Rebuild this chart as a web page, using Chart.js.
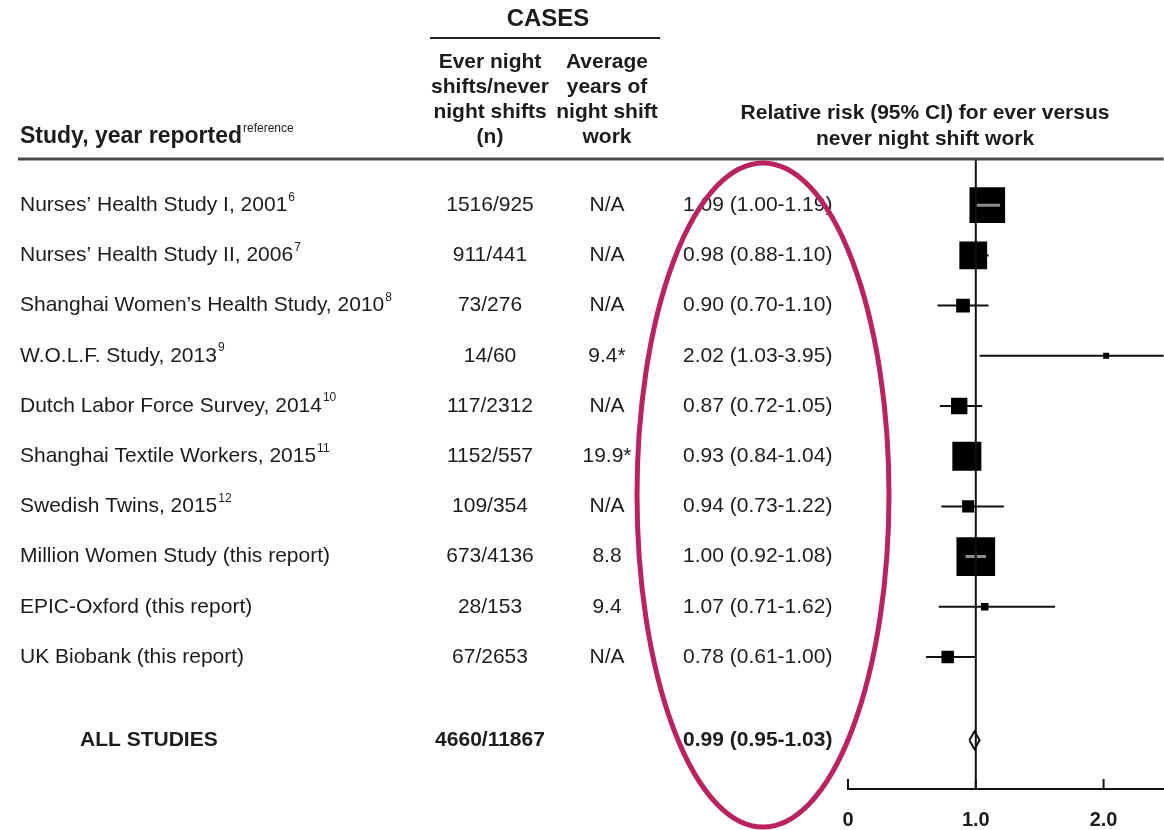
<!DOCTYPE html>
<html><head><meta charset="utf-8">
<script src="https://cdn.jsdelivr.net/npm/chart.js@4.4.1/dist/chart.umd.min.js"></script>
<style>html,body{margin:0;padding:0;background:#fff;overflow:hidden;}#wrap{width:1164px;height:830px;position:relative;overflow:hidden;}canvas{display:block;}</style>
</head><body><div id="wrap"><canvas id="c" width="1191" height="830"></canvas></div>
<script>
// ---------- data ----------
const studies = [
  'Nurses\u2019 Health Study I, 2001',
  'Nurses\u2019 Health Study II, 2006',
  'Shanghai Women\u2019s Health Study, 2010',
  'W.O.L.F. Study, 2013',
  'Dutch Labor Force Survey, 2014',
  'Shanghai Textile Workers, 2015',
  'Swedish Twins, 2015',
  'Million Women Study (this report)',
  'EPIC-Oxford (this report)',
  'UK Biobank (this report)'
];
const refs = ['6','7','8','9','10','11','12','','',''];
const cases = ['1516/925','911/441','73/276','14/60','117/2312','1152/557','109/354','673/4136','28/153','67/2653'];
const avgYears = ['N/A','N/A','N/A','9.4*','N/A','19.9*','N/A','8.8','9.4','N/A'];
const rr     = [1.09,0.98,0.90,2.02,0.87,0.93,0.94,1.00,1.07,0.78];
const ciLow  = [1.00,0.88,0.70,1.03,0.72,0.84,0.73,0.92,0.71,0.61];
const ciHigh = [1.19,1.10,1.10,3.95,1.05,1.04,1.22,1.08,1.62,1.00];
const totalLabel = 'ALL STUDIES';
const totalCases = '4660/11867';
const totalRR = 0.99, totalLow = 0.95, totalHigh = 1.03;
const xTicks = [0, 1, 2];

// ---------- style / layout ----------
const FONT = '"Liberation Sans", Arial, Helvetica, sans-serif';
const TEXT = '#1c1c1c';
const summaryRow = studies.length + 0.66;
const yMin = -0.92, yMax = 11.63;
const boxSide = ciLow.map((lo,i)=>Math.max(6, 6.2/Math.log(ciHigh[i]/lo)));

const datasets = [];
studies.forEach((s,i)=>{
  datasets.push({label:'ci'+i, data:[{x:ciLow[i],y:i},{x:ciHigh[i],y:i}], showLine:true,
    borderColor:'#111', borderWidth:2, pointRadius:0, order:6});
});
datasets.push({label:'boxes', data:rr.map((v,i)=>({x:v,y:i})), pointStyle:'rect',
  pointRadius:boxSide.map(s=>s/Math.SQRT2), pointHoverRadius:boxSide.map(s=>s/Math.SQRT2),
  backgroundColor:'#000', borderWidth:0, order:5});
studies.forEach((s,i)=>{
  if (boxSide[i] >= 32) {
    datasets.push({label:'hl'+i, data:[{x:ciLow[i],y:i},{x:ciHigh[i],y:i}], showLine:true,
      borderColor:'#8c8c8c', borderWidth:3, pointRadius:0, order:4});
  }
});
datasets.push({label:'ref', data:[{x:1,y:yMin},{x:1,y:yMax}], showLine:true,
  borderColor:'#111', borderWidth:2, pointRadius:0, order:3});
const dh = 0.18;
datasets.push({label:'diamond', data:[{x:totalLow,y:summaryRow},{x:totalRR,y:summaryRow-dh},
  {x:totalHigh,y:summaryRow},{x:totalRR,y:summaryRow+dh},{x:totalLow,y:summaryRow}],
  showLine:true, borderColor:'#111', borderWidth:2, pointRadius:0, order:1});

function supText(ctx, txt, sup, x, y, size, weight, align, supSize){
  ctx.font = weight+' '+size+'px '+FONT;
  ctx.textAlign = align; ctx.textBaseline = 'middle';
  ctx.fillText(txt, x, y);
  if (sup) {
    const w = ctx.measureText(txt).width;
    const sx = align==='left' ? x + w + 1 : x + w/2 + 1;
    ctx.font = 'normal '+(supSize || Math.round(size*0.55))+'px '+FONT;
    ctx.textAlign = 'left';
    ctx.fillText(sup, sx, y - size*0.38);
  }
}

const textPlugin = {
  id:'forestText',
  afterDraw(chart){
    const ctx = chart.ctx, ys = chart.scales.y, xs = chart.scales.x, area = chart.chartArea;
    ctx.save();
    // x ticks drawn upward
    ctx.strokeStyle = '#111'; ctx.lineWidth = 2;
    xs.ticks.forEach(t=>{
      const px = xs.getPixelForValue(t.value);
      ctx.beginPath(); ctx.moveTo(px, area.bottom-10); ctx.lineTo(px, area.bottom); ctx.stroke();
    });
    ctx.fillStyle = TEXT;
    // headers
    ctx.font = 'bold 24px '+FONT; ctx.textAlign='center'; ctx.textBaseline='middle';
    ctx.fillText('CASES', 548, 19);
    ctx.strokeStyle = '#222'; ctx.lineWidth = 2;
    ctx.beginPath(); ctx.moveTo(430, 38); ctx.lineTo(660, 38); ctx.stroke();
    const col1 = ['Ever night','shifts/never','night shifts','(n)'];
    const col2 = ['Average','years of','night shift','work'];
    const hy = [62, 87, 112, 137];
    ctx.font = 'bold 21px '+FONT;
    col1.forEach((t,k)=>ctx.fillText(t, 490, hy[k]));
    col2.forEach((t,k)=>ctx.fillText(t, 607, hy[k]));
    ctx.fillText('Relative risk (95% CI) for ever versus', 925, 113);
    ctx.fillText('never night shift work', 925, 139);
    supText(ctx, 'Study, year reported', 'reference', 20, 137, 23, 'bold', 'left', 12);
    ctx.fillStyle = TEXT;
    // header rule
    ctx.strokeStyle = '#4a4a4a'; ctx.lineWidth = 3;
    ctx.beginPath(); ctx.moveTo(18, 159); ctx.lineTo(area.right, 159); ctx.stroke();
    // rows
    studies.forEach((s,i)=>{
      const py = ys.getPixelForValue(i);
      ctx.fillStyle = TEXT;
      supText(ctx, s, refs[i], 20, py, 21, 'normal', 'left', 12);
      ctx.font = 'normal 21px '+FONT; ctx.textAlign='center'; ctx.textBaseline='middle';
      ctx.fillText(cases[i], 490, py);
      ctx.fillText(avgYears[i], 607, py);
      ctx.textAlign='left';
      ctx.fillText(rr[i].toFixed(2)+' ('+ciLow[i].toFixed(2)+'-'+ciHigh[i].toFixed(2)+')', 683, py);
    });
    const ty = ys.getPixelForValue(summaryRow);
    ctx.font = 'bold 21px '+FONT; ctx.textBaseline='middle';
    ctx.textAlign='left'; ctx.fillText(totalLabel, 80, ty);
    ctx.textAlign='center'; ctx.fillText(totalCases, 490, ty);
    ctx.textAlign='left';
    ctx.fillText(totalRR.toFixed(2)+' ('+totalLow.toFixed(2)+'-'+totalHigh.toFixed(2)+')', 683, ty);
    // highlight ellipse
    ctx.strokeStyle = '#b9235f'; ctx.lineWidth = 5;
    ctx.beginPath(); ctx.ellipse(763, 495, 126, 332, 0, 0, Math.PI*2); ctx.stroke();
    ctx.restore();
  }
};

new Chart(document.getElementById('c'), {
  type:'scatter',
  data:{datasets},
  options:{
    responsive:false, animation:false, devicePixelRatio:1,
    layout:{padding:{left:848, top:159, right:0, bottom:0}},
    plugins:{legend:{display:false}, tooltip:{enabled:false}},
    scales:{
      x:{type:'linear', min:0, max:2.47,
        afterBuildTicks:(s)=>{ s.ticks = xTicks.map(v=>({value:v})); },
        afterFit:(s)=>{ s.height = 41; },
        grid:{drawOnChartArea:false, drawTicks:false},
        border:{display:true, color:'#111', width:2},
        ticks:{font:{family:FONT, size:20, weight:'bold', lineHeight:1}, color:TEXT, padding:21,
          maxRotation:0, autoSkip:false, callback:(v)=> v===0 ? '0' : Number(v).toFixed(1)}
      },
      y:{type:'linear', display:false, reverse:true, min:yMin, max:yMax}
    }
  },
  plugins:[textPlugin]
});
</script></body></html>
